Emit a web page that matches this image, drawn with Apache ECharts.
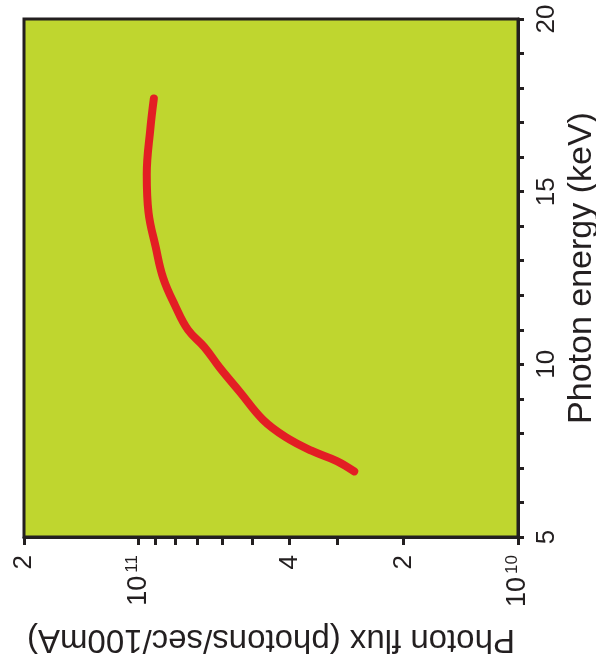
<!DOCTYPE html>
<html>
<head>
<meta charset="utf-8">
<script src="https://cdn.jsdelivr.net/npm/echarts@6/dist/echarts.min.js"></script>
<style>
  html, body { margin: 0; padding: 0; background: #fff; }
  #chart { width: 596px; height: 672px; }
</style>
</head>
<body>
<div id="chart"></div>
<script>
// photon energy (keV) along the curve, top end first
const energy = [17.7, 16.8, 15.5, 14.4, 13.4, 12.5, 11.7, 11.0, 10.5, 9.9, 9.2, 8.4, 7.9, 7.5, 7.2, 6.9]
// photon flux (photons/sec/100mA)
const flux = [9.1e10, 9.3e10, 9.5e10, 9.4e10, 9.0e10, 8.6e10, 8.0e10, 7.4e10, 6.7e10, 6.1e10,
  5.4e10, 4.7e10, 4.1e10, 3.5e10, 3.0e10, 2.7e10]

const fluxTicks = [1e10, 2e10, 3e10, 4e10, 5e10, 6e10, 7e10, 8e10, 9e10, 1e11, 2e11]
const fluxLabels = [1e10, 2e10, 4e10, 1e11, 2e11]

const ink = '#231f20'
const font = '"Liberation Sans", Arial, sans-serif'

function fluxLabel(v) {
  const e = Math.round(Math.log10(v))
  if (Math.abs(v - Math.pow(10, e)) < 1) return '{b|10}{s|' + e + '}'
  return String(Math.round(v / Math.pow(10, Math.floor(Math.log10(v)))))
}

const chart = echarts.init(document.getElementById('chart'))

chart.setOption({
  animation: false,
  grid: {
    left: 24, right: 78, top: 19, bottom: 135,
    outerBoundsMode: 'none',
    show: true,
    backgroundColor: '#bfd62f',
    borderColor: ink,
    borderWidth: 3
  },
  xAxis: {
    type: 'log',
    logBase: 10,
    min: 1e10,
    max: 2e11,
    inverse: true,
    position: 'bottom',
    name: 'Photon flux (photons/sec/100mA)',
    nameLocation: 'middle',
    nameRotate: 180,
    nameGap: 86,
    nameMoveOverlap: false,
    nameTextStyle: { fontFamily: font, fontSize: 33, color: ink },
    axisLine: { lineStyle: { color: ink, width: 3 } },
    axisTick: { customValues: fluxTicks, length: 8, lineStyle: { color: ink, width: 3 } },
    splitLine: { show: false },
    axisLabel: {
      customValues: fluxLabels,
      rotate: 90,
      margin: 18,
      color: ink,
      fontFamily: font,
      fontSize: 26,
      formatter: fluxLabel,
      rich: {
        b: { fontFamily: font, fontSize: 27, color: ink },
        s: { fontFamily: font, fontSize: 17, color: ink, verticalAlign: 'top', padding: [0, 0, 12, 3] }
      }
    }
  },
  yAxis: {
    type: 'value',
    min: 5,
    max: 20,
    interval: 1,
    position: 'right',
    name: 'Photon energy (keV)',
    nameLocation: 'middle',
    nameRotate: 90,
    nameGap: 47,
    nameMoveOverlap: false,
    nameTextStyle: { fontFamily: font, fontSize: 34, color: ink, padding: [0, 0, 0, 20] },
    axisLine: { lineStyle: { color: ink, width: 3 } },
    axisTick: { length: 6, lineStyle: { color: ink, width: 3 } },
    splitLine: { show: false },
    axisLabel: {
      rotate: 90,
      margin: 16,
      color: ink,
      fontFamily: font,
      fontSize: 26,
      formatter: v => (v % 5 === 0 ? String(v) : '')
    }
  },
  series: [{
    type: 'line',
    data: flux.map((f, i) => [f, energy[i]]),
    smooth: 0.4,
    showSymbol: false,
    lineStyle: { color: '#e31e24', width: 8, cap: 'round', join: 'round' }
  }]
})
</script>
</body>
</html>
